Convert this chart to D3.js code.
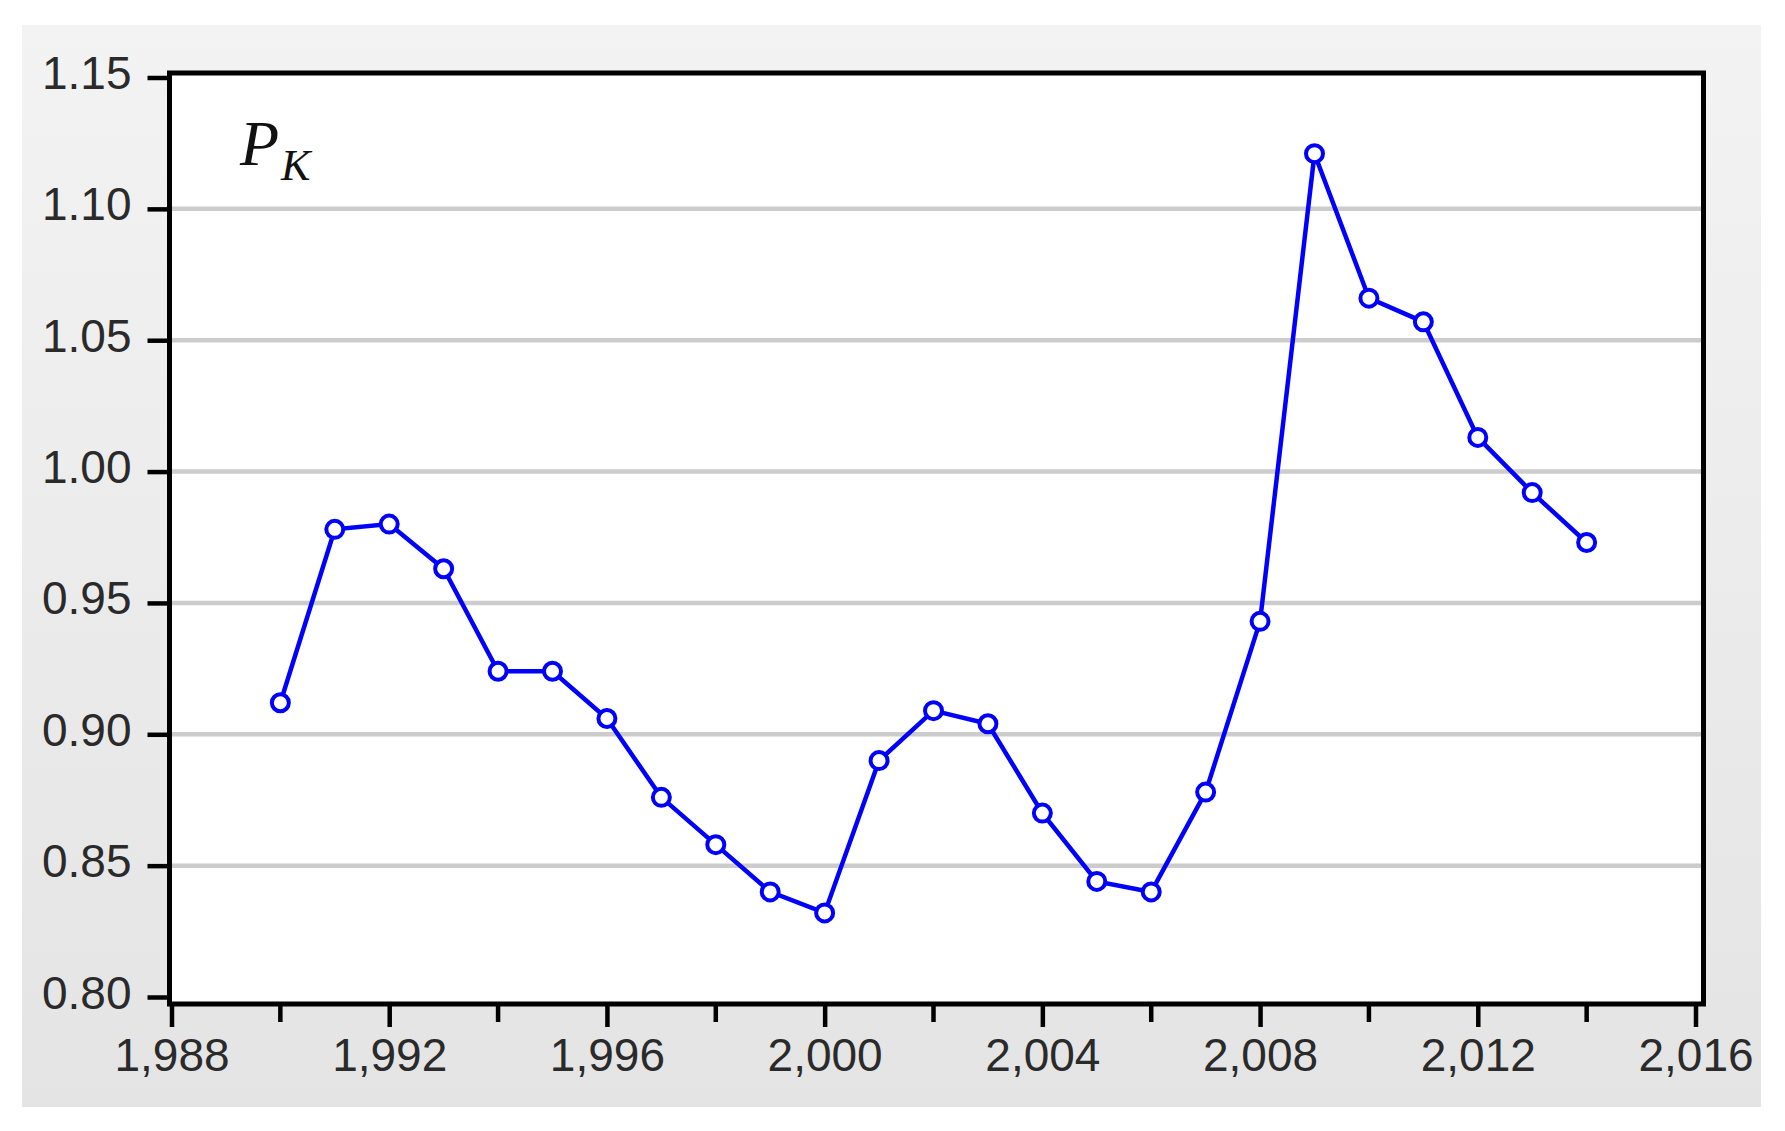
<!DOCTYPE html>
<html>
<head>
<meta charset="utf-8">
<script src="https://cdn.jsdelivr.net/npm/d3@7"></script>
<style>
  html, body { margin: 0; padding: 0; background: #ffffff; }
  svg { display: block; }
</style>
</head>
<body>
<svg id="chart" width="1785" height="1131"></svg>
<script>
// ---- data ----
const years = [1990, 1991, 1992, 1993, 1994, 1995, 1996, 1997, 1998, 1999, 2000, 2001,
               2002, 2003, 2004, 2005, 2006, 2007, 2008, 2009, 2010, 2011, 2012, 2013, 2014];
const values = [0.912, 0.978, 0.980, 0.963, 0.924, 0.924, 0.906, 0.876, 0.858, 0.840, 0.832, 0.890,
                0.909, 0.904, 0.870, 0.844, 0.840, 0.878, 0.943, 1.121, 1.066, 1.057, 1.013, 0.992, 0.973];
const yTicks = [0.80, 0.85, 0.90, 0.95, 1.00, 1.05, 1.10, 1.15];
const yGrid = [0.85, 0.90, 0.95, 1.00, 1.05, 1.10];
const xMajorTicks = [1988, 1992, 1996, 2000, 2004, 2008, 2012, 2016];
const xMinorTicks = [1990, 1994, 1998, 2002, 2006, 2010, 2014];
const seriesLabel = "P";
const seriesSub = "K";

// ---- layout ----
const svg = d3.select("#chart");
const x = d3.scaleLinear().domain([1988, 2016]).range([171.5, 1695.5]);
const y = d3.scaleLinear().domain([0.80, 1.15]).range([997, 77.5]);
const frame = { left: 169.5, right: 1703.5, top: 73, bottom: 1004 };
const font = "'Liberation Sans', Arial, sans-serif";
const textColor = "#2a2a2a";

// background panel gradient
const defs = svg.append("defs");
const grad = defs.append("linearGradient").attr("id", "panelGrad")
  .attr("x1", 0).attr("y1", 0).attr("x2", 0).attr("y2", 1);
grad.append("stop").attr("offset", "0%").attr("stop-color", "#f3f3f3");
grad.append("stop").attr("offset", "100%").attr("stop-color", "#e4e4e4");

svg.append("rect").attr("x", 22).attr("y", 25).attr("width", 1739).attr("height", 1082)
  .attr("fill", "url(#panelGrad)");

// plot area
svg.append("rect")
  .attr("x", frame.left).attr("y", frame.top)
  .attr("width", frame.right - frame.left).attr("height", frame.bottom - frame.top)
  .attr("fill", "#ffffff");

// gridlines
svg.append("g").selectAll("line").data(yGrid).join("line")
  .attr("x1", frame.left).attr("x2", frame.right)
  .attr("y1", d => y(d)).attr("y2", d => y(d))
  .attr("stroke", "#cccccc").attr("stroke-width", 4.5);

// y axis
const yAxis = svg.append("g")
  .attr("transform", `translate(${frame.left},0)`)
  .call(d3.axisLeft(y).tickValues(yTicks).tickSize(22).tickPadding(16).tickFormat(d3.format(".2f")));
yAxis.select(".domain").remove();
yAxis.selectAll(".tick line").attr("stroke", "#000").attr("stroke-width", 4.5);
yAxis.selectAll(".tick text")
  .attr("font-family", font).attr("font-size", 46).attr("fill", textColor)
  .attr("dy", "0.24em").attr("x", -38);

// x axis major
const xAxis = svg.append("g")
  .attr("transform", `translate(0,${frame.bottom})`)
  .call(d3.axisBottom(x).tickValues(xMajorTicks).tickSize(23).tickPadding(12).tickFormat(d3.format(",")));
xAxis.select(".domain").remove();
xAxis.selectAll(".tick line").attr("stroke", "#000").attr("stroke-width", 4.5);
xAxis.selectAll(".tick text")
  .attr("font-family", font).attr("font-size", 46).attr("fill", textColor)
  .attr("dy", "0.72em").attr("y", 34);

// x axis minor
svg.append("g").selectAll("line").data(xMinorTicks).join("line")
  .attr("x1", d => x(d)).attr("x2", d => x(d))
  .attr("y1", frame.bottom).attr("y2", frame.bottom + 18)
  .attr("stroke", "#000").attr("stroke-width", 4.5);

// frame
svg.append("rect")
  .attr("x", frame.left).attr("y", frame.top)
  .attr("width", frame.right - frame.left).attr("height", frame.bottom - frame.top)
  .attr("fill", "none").attr("stroke", "#000").attr("stroke-width", 5);

// series
const pts = years.map((yr, i) => ({ yr, v: values[i] }));
svg.append("path").datum(pts)
  .attr("d", d3.line().x(d => x(d.yr)).y(d => y(d.v)))
  .attr("fill", "none").attr("stroke", "#0000ff").attr("stroke-width", 4.5)
  .attr("stroke-linejoin", "miter");

svg.append("g").selectAll("circle").data(pts).join("circle")
  .attr("cx", d => x(d.yr)).attr("cy", d => y(d.v)).attr("r", 8.5)
  .attr("fill", "#ffffff").attr("stroke", "#0000ff").attr("stroke-width", 4);

// series label P_K
const serif = "'Liberation Serif', 'Times New Roman', serif";
svg.append("text")
  .attr("x", 240).attr("y", 165)
  .attr("font-family", serif).attr("font-style", "italic").attr("fill", "#111")
  .attr("font-size", 64).text(seriesLabel);
svg.append("text")
  .attr("x", 281).attr("y", 180)
  .attr("font-family", serif).attr("font-style", "italic").attr("fill", "#111")
  .attr("font-size", 44).text(seriesSub);
</script>
</body>
</html>
